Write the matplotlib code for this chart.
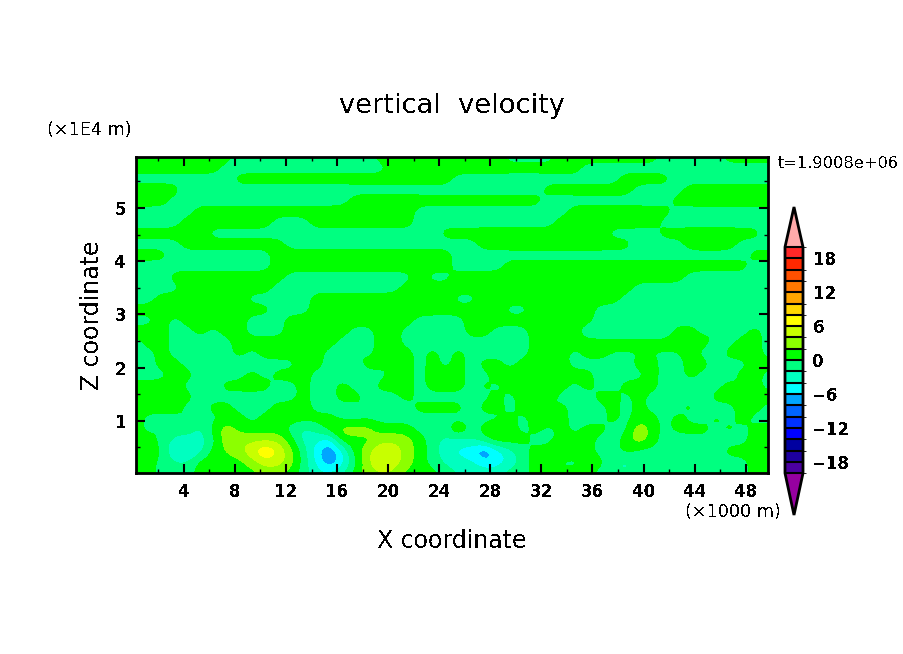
import numpy as np
import matplotlib
matplotlib.use('Agg')
import matplotlib.pyplot as plt
from matplotlib.colors import ListedColormap, BoundaryNorm
from matplotlib.ticker import MultipleLocator

# vertical velocity: top row first, 50 columns per row
w_rows = [
 [1,1,1,1,1,1,1,1,-1,-1,-1,-1,-1,-1,-1,-1,-1,-1,-1,1,1,1,1,1,1, 1,1,1,1,-1,-1,-1,-1,1,1,1,1,1,1,1,1,-1,-1,-1,-1,-1,1,1,1,1],
 [1,1,1,1,1,1,1,-1,-1,-1,-1,-1,-1,-1,-1,-1,-1,-1,-1,-1,1,1,1,1,1, 1,1,1,1,1,1,1,1,1,1,-1,-1,-1,-1,-1,-1,-1,-1,-1,-1,-1,-1,-1,-1,-1],
 [-1,-1,-1,-1,-1,-1,-1,-1,1,1,1,1,1,1,1,1,1,1,1,1,1,1,1,1,1, -1,-1,-1,-1,-1,-1,-1,-1,-1,-1,-1,-1,-1,1,1,1,1,-1,-1,-1,-1,-1,-1,-1,-1],
 [1,1,1,1,-1,-1,-1,-1,-1,-1,-1,-1,-1,-1,-1,-1,-1,-1,-1,-1,-1,-1,-1,-1,-1, -1,-1,-1,-1,-1,-1,-1,1,1,1,1,1,1,1,-1,-1,-1,-1,1,1,1,1,1,1,1],
 [1,1,1,-1,-1,-1,-1,-1,-1,-1,-1,-1,-1,-1,-1,-1,-1,1,1,1,1,1,1,1,1, 1,1,1,1,1,1,1,-1,-1,-1,-1,-1,-1,-1,-1,-1,-1,1,1,1,1,1,1,1,1],
 [-1,-1,-1,-1,-1,1,1,1,1,1,1,1,1,1,1,1,1,1,1,1,1,1,-1,-1,-1, -1,-1,-1,-1,-1,-1,-1,-1,-1,1,1,1,1,1,1,1,1,-1,-1,-1,-1,-1,-1,-1,-1],
 [-1,-1,-1,-1,1,1,1,1,1,1,1,-1,-1,-1,1,1,1,1,1,1,1,1,-1,-1,-1, -1,-1,-1,-1,-1,-1,-1,-1,1,1,1,1,1,1,1,1,-1,-1,-1,-1,-1,-1,-1,-1,-1],
 [1,1,1,1,1,1,-1,-1,-1,-1,-1,-1,-1,-1,-1,-1,-1,-1,-1,-1,-1,-1,-1,-1,1, 1,1,1,1,1,1,1,1,1,1,1,1,-1,-1,-1,-1,1,1,1,1,1,1,1,1,-1],
 [-1,-1,-1,-1,1,1,1,1,1,1,1,1,-1,-1,-1,-1,-1,-1,-1,-1,-1,-1,-1,-1,-1, -1,-1,1,1,1,1,1,1,1,1,1,1,1,1,-1,-1,-1,-1,1,1,1,1,-1,-1,-1],
 [1,1,1,-1,-1,-1,-1,-1,-1,-1,-1,1,1,1,1,1,1,1,1,1,1,1,1,1,1, -1,-1,-1,-1,-1,-1,-1,-1,-1,-1,-1,-1,-1,-1,-1,-1,-1,-1,-1,-1,-1,-1,-1,1,1],
 [-1,-1,-1,-1,-1,-1,-1,-1,-1,-1,-1,1,1,1,1,1,1,1,1,1,1,1,1,1,1, -1,-1,-1,-1,1,1,1,1,1,1,1,1,1,1,1,1,1,1,1,1,1,1,1,-1,-1],
 [-1,-1,-1,1,1,1,1,1,1,1,1,1,-1,-1,-1,-1,-1,-1,-1,-1,-1,-1,1,-1,-1, 1,1,1,1,1,1,1,1,1,1,1,1,1,1,1,1,1,1,-1,-1,-1,-1,-1,-1,-1],
 [-1,-1,-1,-1,1,1,1,1,1,1,1,-1,-1,-1,-1,-1,-1,-1,-1,-1,-1,1,1,1,1, 1,1,1,1,1,1,1,1,1,1,1,1,1,1,-1,-1,-1,-1,-1,-1,-1,-1,-1,-1,-1],
 [-1,-1,1,1,1,1,1,1,1,-1,-1,-1,-1,-1,1,1,1,1,1,1,1,1,1,1,1, -1,-1,1,1,1,1,1,1,1,1,1,1,1,-1,-1,-1,-1,-1,-1,-1,-1,-1,-1,-1,-1],
 [1,1,1,1,1,1,1,1,1,1,1,-1,-1,-1,1,1,1,1,1,1,1,1,1,1,1, 1,1,1,1,-1,-1,1,1,1,1,1,-1,-1,-1,-1,-1,-1,-1,-1,-1,-1,-1,-1,-1,-1],
 [-1,-1,1,-1,1,1,1,1,1,-1,-1,-1,1,1,1,1,1,1,1,1,1,1,-1,-1,-1, -1,1,1,1,1,1,1,1,1,1,1,-1,-1,-1,-1,-1,-1,-1,-1,-1,-1,-1,-1,-1,-1],
 [1,1,1,-1,-1,1,-1,1,1,-1,-1,-1,1,1,1,1,1,-1,-1,1,1,-1,-1,-1,-1, -1,1,1,-1,-1,-1,1,1,1,1,-1.9,-1.9,-1.9,-1.9,-1.9,-1.9,-1.9,1,1,-1,1,-1,-1,1,-1],
 [-1,1,1,-1,-1,-1,-1,-1,1,1,1,1,1,1,1,1,-1,-1,-1,1,1,-1,-1,-1,-1, -1,-1,-1,-1,-1,-1,1,1,1,1,1,1,1,1,1,1,1,1,1,1,-1,-1,1,1,-1],
 [-1,-1,1,-1,-1,-1,1,-1,1,-1,1,1,1,1,1,-1,-1,1,-1,1,1,1,-1,1,-1, 1,-1,-1,-1,-1,-1,1,1,1,-1,1,1,-0.3,-0.3,-0.3,-0.3,-0.3,-0.3,1,-1,-1,1,1,1,-1],
 [1,-1,1,1,-1,-1,-1,-1,-1,-1,-1,-1,-1,1,1,-1,-1,-1,1,1,-1,1,-1,1,-1, 1,-1,1,1,-1,1,1,1,1,-1,-1,-1,-1,-1,1,1,-1,-1,1,1,-1,-1,-1,1,1],
 [-1,-1,-1,1,1,-1,-1,-1,-1,1,-1,1,1,1,-1,-1,-1,-1,-1,-1,1,1,-1,1,1, 1,-1,-1,1,1,1,1,1,1,1,1,-1,-1,-1,-1,1,-1,-1,1,-1,-1,-1,1,1,-1],
 [1,1,1,1,-1,-1,-1,1,1,1,1,-1,-1,1,-1,-1,1,-1,-1,1,1,1,-1,1,1, 1,-1,1,-1,1,1,1,1,1,-1,1,-1,-1,1,1,1,-1,-1,-1,-1,-1,1,-1,1,-1],
 [1,1,1,1,1,-1,-1,-1,-1,-1,-1,-1,-1,1,-1,-1,1,1,-1,-1,-1,1,-1,-1,-1, -1,-1,-1,1,-1,1,1,1,-1,-1,-1,1,1,-1,1,-1,-1,1,-1,-1,1,1,1,1,1],
 [1,1,1,1,-1,-1,1,1,-1,-1,-1,1,1,1,-1,-1,-1,-1,1,-1,-1,-1,1,1,1, 1,-1,1,1,-1,1,1,-1,1,-1,-1,-1,1,-1,1,-1,-1,-1,1,-1,-1,-1,1,1,-1],
 [1,-1,-1,-1,1,-1,-1,1,1,-1,1,1,1,1,1,1,-1,-1,-1,-1,-1,-1,-1,-1,-1, -1,-1,-1,-1,1,-1,1,1,1,-1,-1,-1,1,-1,1,1,-1,1,-1,-1,1,-1,1,-1,-1],
 [1,-1,1,-1,-1,-3,1,3.5,1,1,1,1,-1,-3,-1.5,1,3.5,3.5,3.5,1,1,1,-1,-1,-1, 3,-1,1,3,1,-1,1,-1,1,-1,1,1,-1,-1,4.5,1,-1,1,1,1,-1,1,-1,1,1],
 [1,1,-1,-3,-3,-3,-1,3.5,3.5,3.5,3.5,3.5,1,-3,-3.5,-6,1,1,1,3.5,3.5,3,1,-1,-3, -3,-2.5,-1,1,1,1,-1,-1,1,1,1,-1,-1,1,3.5,1,-1,-2,-1,-1,-1,-1,-1,1,1],
 [1,3.5,-1,-3.5,-5.5,-3,1,2,3.5,5.5,9,6,2.5,-1,-5.5,-8.5,-4.5,1,3.5,6,5.5,3,1,-1,-3.5, -4.5,-5.5,-9,-5,-3,-1,1,1,3.5,1,1,-1,-1,1,-1,-1,-1,-1,-3,-1,-1,1,1,1,1],
 [1,1,-1,-2,-2,1,1,1,1,3,5,5,3,-1,-4.5,-8.5,-5,-0.5,3.5,7,5,3,1,-1,-2.5, -3.5,-3.5,-5.5,-5.5,-3.5,-1,1,1,-1,-1,1,1,-2,-3,-1,-1,-1,-1,-1,-1,-1,-1,-1,1,1],
 [1,1,-1,-1,-1,1,1,1,1,1,2.5,2.5,1,-1,-3.5,-3.5,-2.5,1,3,3.5,3.5,1,1,1,-1, -2,-2.5,-3,-2.5,-1,-1,1,1,1,1,1,-1,-1,-2,-1,-1,-1,-1,-1,-1,-1,-1,-1,1,1],
]
levels = [-20, -18, -16, -14, -12, -10, -8, -6, -4, -2, 0, 2, 4, 6, 8, 10, 12, 14, 16, 18, 20]
colors = ['#4b00a0', '#1e00a0', '#0000a0', '#0000ff', '#0032ff', '#0064ff', '#00a5ff', '#00ffff',
          '#00ffc0', '#00ff80', '#00ff00', '#8cff00', '#c8ff00', '#ffff00', '#ffd700', '#ffa500',
          '#ff7800', '#ff5000', '#ff2800', '#ff2828']
over_color = '#ffaaaa'
under_color = '#9600a0'
cbar_ticks = [-18, -12, -6, 0, 6, 12, 18]
x_range = (0.25, 49.75)
z_range = (0.02, 5.96)

W, H = 904, 654
plt.rcParams['text.antialiased'] = False
plt.rcParams['font.family'] = 'DejaVu Sans'


def soften(a, n=5, sigma=2.2):
    # finer grid + small gaussian so the contours lose the grid diamonds
    ny, nx = a.shape
    xi = np.linspace(0, nx - 1, (nx - 1) * n + 1)
    yi = np.linspace(0, ny - 1, (ny - 1) * n + 1)
    b = np.array([np.interp(xi, np.arange(nx), row) for row in a])
    b = np.array([np.interp(yi, np.arange(ny), col) for col in b.T]).T
    r = int(3 * sigma)
    k = np.exp(-0.5 * (np.arange(-r, r + 1) / sigma) ** 2)
    k /= k.sum()
    b = np.pad(b, r, mode='edge')
    b = np.apply_along_axis(lambda v: np.convolve(v, k, mode='same'), 0, b)
    b = np.apply_along_axis(lambda v: np.convolve(v, k, mode='same'), 1, b)
    return b[r:-r, r:-r]


w = soften(np.array(w_rows, dtype=float))
x = np.linspace(x_range[0], x_range[1], w.shape[1])
z = np.linspace(z_range[1], z_range[0], w.shape[0])

cmap = ListedColormap(colors)
cmap.set_over(over_color)
cmap.set_under(under_color)
norm = BoundaryNorm(levels, cmap.N)

fig = plt.figure(figsize=(W / 100, H / 100), dpi=100)
ax = fig.add_axes([136 / W, 1 - 473 / H, 632 / W, 316 / H])
cf = ax.contourf(x, z, w, levels=levels, cmap=cmap, norm=norm, extend='both', antialiased=False)
ax.set_xlim(*x_range)
ax.set_ylim(*z_range)

ax.xaxis.set_major_locator(MultipleLocator(4))
ax.xaxis.set_minor_locator(MultipleLocator(2))
ax.yaxis.set_major_locator(MultipleLocator(1))
ax.yaxis.set_minor_locator(MultipleLocator(0.5))
ax.tick_params(which='major', direction='in', top=True, right=True, length=6.5, width=1.5,
               labelsize=12, pad=7)
ax.tick_params(which='minor', direction='in', top=True, right=True, length=3, width=1)
for s in ax.spines.values():
    s.set_linewidth(2)
for lab in ax.get_xticklabels() + ax.get_yticklabels():
    lab.set_fontweight('bold')

# colour bar with pointed ends, the axes box holds the triangles too
cax = fig.add_axes([785 / W, 1 - 515 / H, 18 / W, 308 / H])
cb = fig.colorbar(cf, cax=cax, ticks=cbar_ticks, extendfrac=(0.185, 0.177), drawedges=True)
cb.ax.tick_params(length=0, labelsize=12, pad=7)
cb.dividers.set_color('black')
cb.dividers.set_linewidth(1.5)
cb.outline.set_linewidth(2)
for lab in cb.ax.get_yticklabels():
    lab.set_fontweight('bold')

def put(px, py, s, size, **kw):
    fig.text(px / W, 1 - py / H, s, fontsize=size, va='center', **kw)

put(452, 106, 'vertical  velocity', 19.6, ha='center')
put(452, 541, 'X coordinate', 17, ha='center')
put(92, 315, 'Z coordinate', 17, ha='center', rotation=90)
put(47, 130, '(×1E4 m)', 12.7, ha='left')
put(685, 512, '(×1000 m)', 12.7, ha='left')
put(778, 163, 't=1.9008e+06', 11.7, ha='left')

fig.savefig('out.png', dpi=100)
